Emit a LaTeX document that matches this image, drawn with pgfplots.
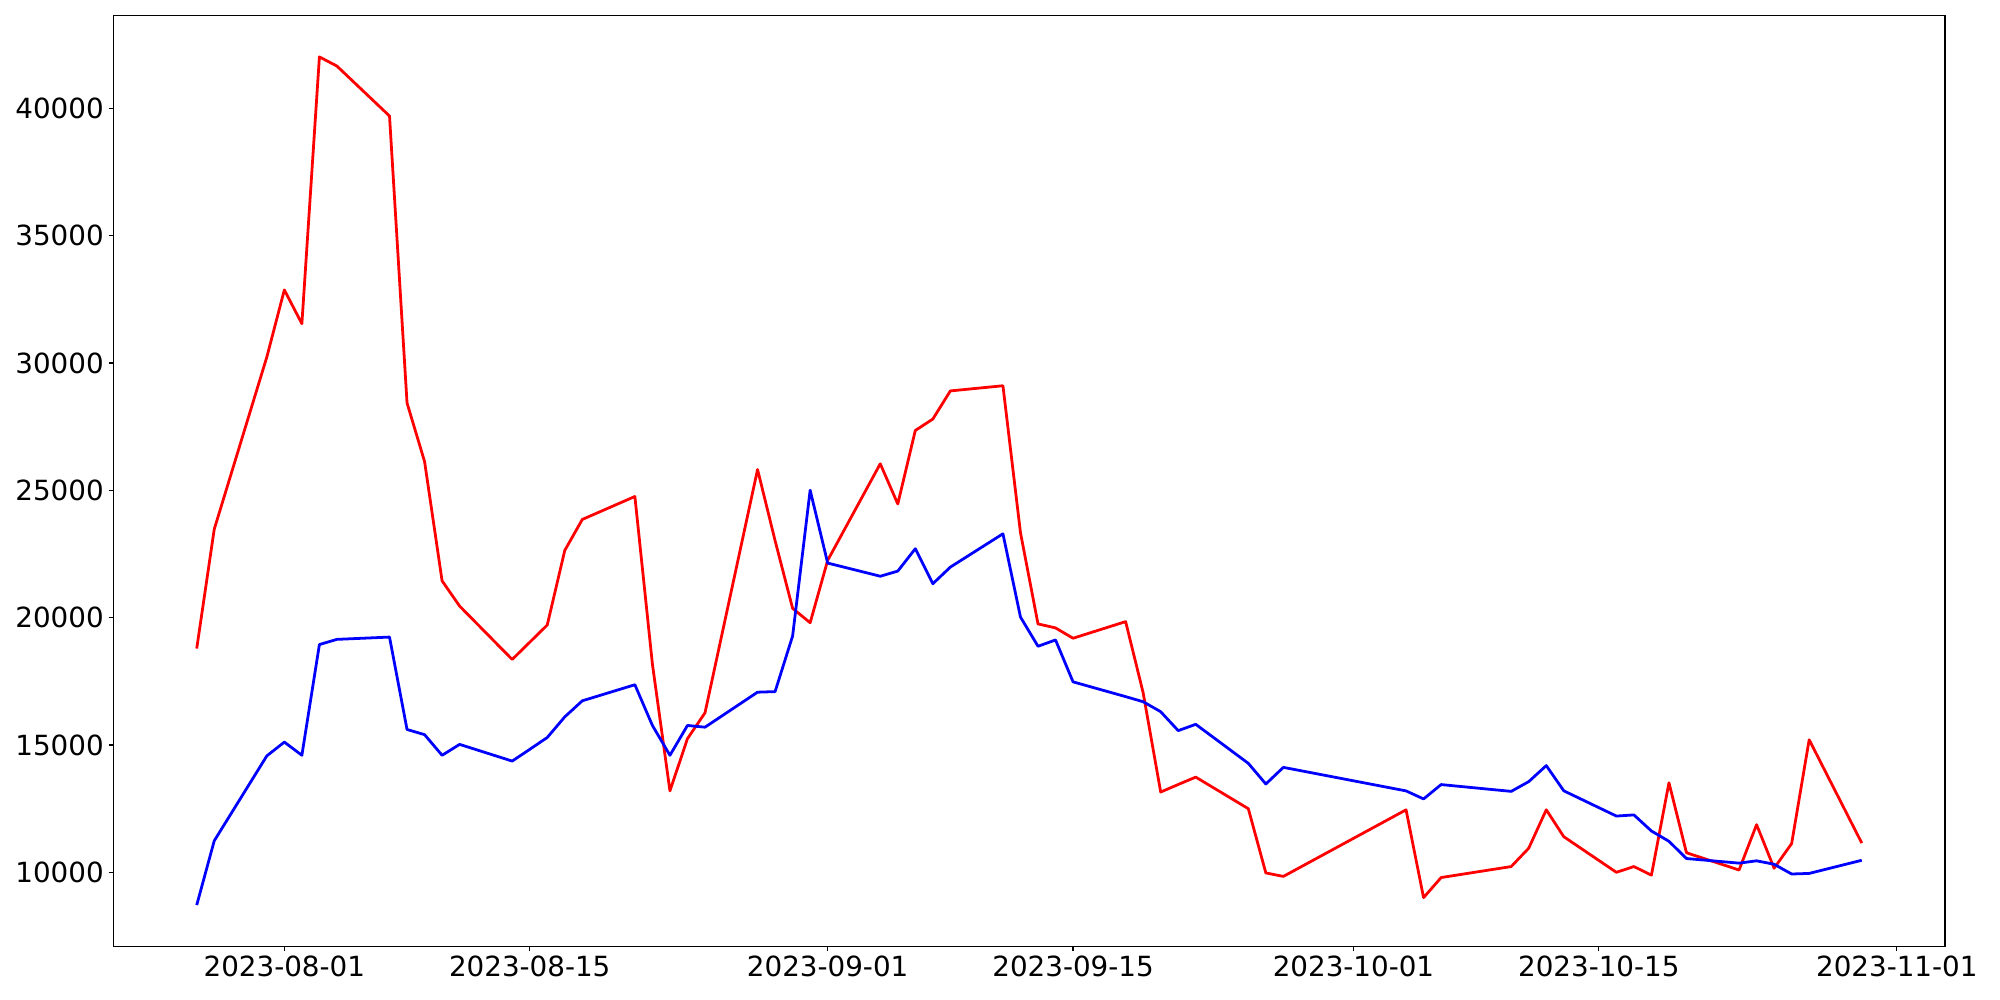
\documentclass[border=0pt]{standalone}
\usepackage{fontspec}
\setmainfont{DejaVu Sans}
\usepackage{pgfplots}
\pgfplotsset{compat=1.18}
\begin{document}
\begin{tikzpicture}
\path[use as bounding box] (-81.7pt,-38.6pt) rectangle (1358.3pt,681.3pt);
\begin{axis}[
  at={(0pt,0pt)}, anchor=south west,
  scale only axis, width=1318.7pt, height=670.3pt,
  xmin=-9.75, xmax=94.75, ymin=7100, ymax=43650,
  xtick={0,14,31,45,61,75,92},
  xticklabels={2023-08-01,2023-08-15,2023-09-01,2023-09-15,2023-10-01,2023-10-15,2023-11-01},
  ytick={10000,15000,20000,25000,30000,35000,40000},
  yticklabels={10000,15000,20000,25000,30000,35000,40000},
  xtick pos=left, ytick pos=left,
  tick align=outside, major tick length=3.5pt,
  every tick/.style={black, line width=0.8pt},
  axis line style={line width=0.8pt},
  tick label style={font=\fontsize{20}{24}\selectfont},
]
\addplot[color=red, line width=2pt, mark=none, line join=round] coordinates {
(-5,18787) (-4,23473) (-1,30232) (0,32868) (1,31539) (2,42015) (3,41655) (6,39694)
(7,28429) (8,26131) (9,21445) (10,20454) (13,18359) (14,19035) (15,19711) (16,22640)
(17,23856) (20,24757) (21,18178) (22,13199) (23,15250) (24,16263) (27,25816) (28,23022)
(29,20364) (30,19801) (31,22250) (34,26041) (35,24464) (36,27348) (37,27798) (38,28902)
(41,29105) (42,23338) (43,19755) (44,19598) (45,19192) (48,19845) (49,17052) (50,13154)
(51,13450) (52,13740) (55,12501) (56,9978) (57,9842) (64,12456) (65,9009) (66,9797)
(70,10229) (71,10950) (72,12458) (73,11400) (76,10003) (77,10229) (78,9891) (79,13518)
(80,10770) (83,10094) (84,11874) (85,10162) (86,11131) (87,15208) (90,11153)
};
\addplot[color=blue, line width=2pt, mark=none, line join=round] coordinates {
(-5,8716) (-4,11240) (-1,14574) (0,15115) (1,14597) (2,18945) (3,19148) (6,19238)
(7,15610) (8,15407) (9,14597) (10,15025) (13,14370) (14,14830) (15,15295) (16,16106)
(17,16736) (20,17367) (21,15768) (22,14597) (23,15768) (24,15700) (27,17074) (28,17097)
(29,19282) (30,25005) (31,22144) (34,21626) (35,21828) (36,22707) (37,21332) (38,21985)
(41,23293) (42,20026) (43,18877) (44,19125) (45,17480) (48,16900) (49,16700) (50,16308)
(51,15565) (52,15813) (55,14281) (56,13470) (57,14123) (64,13199) (65,12883) (66,13447)
(70,13180) (71,13563) (72,14193) (73,13202) (76,12211) (77,12256) (78,11625) (79,11220)
(80,10544) (83,10363) (84,10454) (85,10319) (86,9936) (87,9959) (90,10476)
};
\end{axis}
\end{tikzpicture}
\end{document}
